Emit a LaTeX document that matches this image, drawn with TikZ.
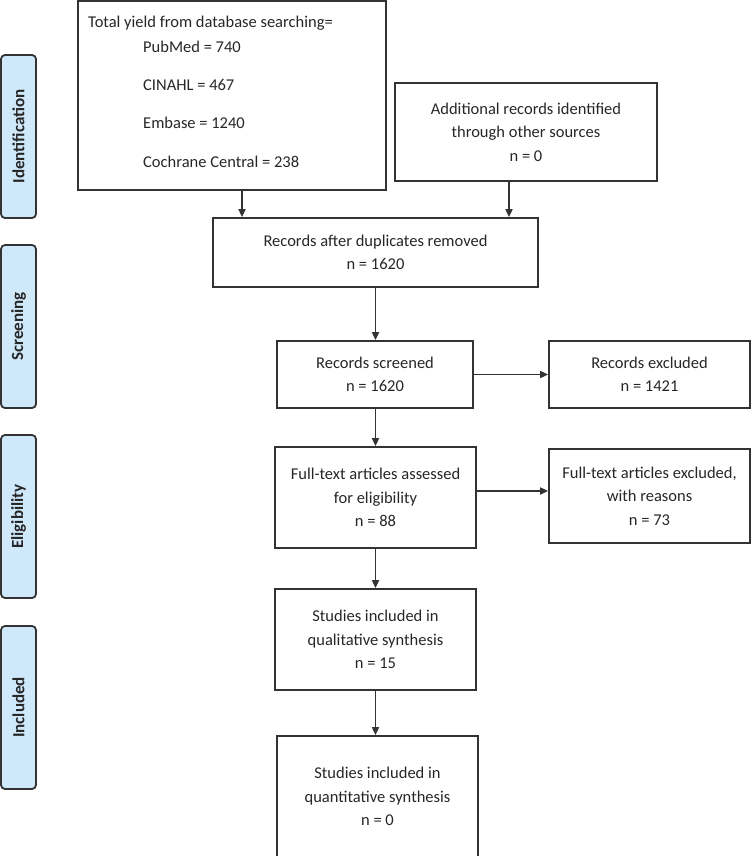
\documentclass[tikz,border=0pt]{standalone}
\usepackage{fontspec}
\setmainfont{Carlito}
\usetikzlibrary{arrows.meta}
\definecolor{linec}{HTML}{333333}
\definecolor{textc}{HTML}{262626}
\definecolor{sidefill}{HTML}{CFE9FB}
\begin{document}
\begin{tikzpicture}[x=1pt,y=-1pt,
  box/.style={draw=linec, line width=1.8pt, align=center, inner sep=0pt, text=textc,
    font=\fontsize{16.5}{23.5}\selectfont},
  txt/.style={inner sep=0pt, text=textc, font=\fontsize{16.5}{23.5}\selectfont},
  side/.style={draw=linec, line width=1.8pt, fill=sidefill, rounded corners=4pt, rotate=90,
    minimum width=163pt, minimum height=35pt, inner sep=0pt, text=textc,
    font=\fontsize{17}{19}\selectfont\bfseries},
  arr/.style={draw=linec, line width=1.8pt, -{Triangle[length=8pt,width=7pt]}}]
\useasboundingbox (0,0) rectangle (751,856);

% phase labels
\node[side] (sid) at (18.5,136.5) {Identification};
\node[side] (ssc) at (18.5,326.5) {Screening};
\node[side] (sel) at (18.5,516.5) {Eligibility};
\node[side] (sin) at (18.5,707.5) {Included};

% total yield box
\node[box, minimum width=308pt, minimum height=189pt] (ty) at (232,95.5) {};
\node[txt, anchor=west] (ty0) at (88,23) {Total yield from database searching=};
\node[txt, anchor=west] (ty1) at (143,47) {PubMed = 740};
\node[txt, anchor=west] (ty2) at (143,85) {CINAHL = 467};
\node[txt, anchor=west] (ty3) at (143,123) {Embase = 1240};
\node[txt, anchor=west] (ty4) at (143,162) {Cochrane Central = 238};

\node[box, minimum width=262pt, minimum height=98pt] (add) at (526,132)
  {Additional records identified\\through other sources\\n = 0};
\node[box, minimum width=325pt, minimum height=69pt] (dup) at (375.5,252.5)
  {Records after duplicates removed\\n = 1620};
\node[box, minimum width=196pt, minimum height=67pt] (scr) at (375,374.5)
  {Records screened\\n = 1620};
\node[box, minimum width=201pt, minimum height=67pt] (exc) at (649.5,374.5)
  {Records excluded\\n = 1421};
\node[box, minimum width=201pt, minimum height=101pt] (ft) at (375.5,497.5)
  {Full-text articles assessed\\for eligibility\\n = 88};
\node[box, minimum width=201pt, minimum height=94pt] (exft) at (649.5,496)
  {Full-text articles excluded,\\with reasons\\n = 73};
\node[box, minimum width=201pt, minimum height=101pt] (qual) at (375.5,639.5)
  {Studies included in\\qualitative synthesis\\n = 15};
\node[box, minimum width=201pt, minimum height=121pt] (quant) at (377.5,796.5)
  {Studies included in\\quantitative synthesis\\n = 0};

% connectors
\coordinate (xa) at (242,0);
\coordinate (xb) at (509,0);
\coordinate (yf) at (0,491);
\draw[arr] (ty.south -| xa) -- (dup.north -| xa);
\draw[arr] (add.south -| xb) -- (dup.north -| xb);
\draw[arr] (dup.south) -- (scr.north -| dup.south);
\draw[arr] (scr.east) -- (exc.west);
\draw[arr] (scr.south -| ft.north) -- (ft.north);
\draw[arr] (ft.east |- yf) -- (exft.west |- yf);
\draw[arr] (ft.south) -- (qual.north);
\draw[arr] (qual.south) -- (quant.north -| qual.south);
\end{tikzpicture}
\end{document}
